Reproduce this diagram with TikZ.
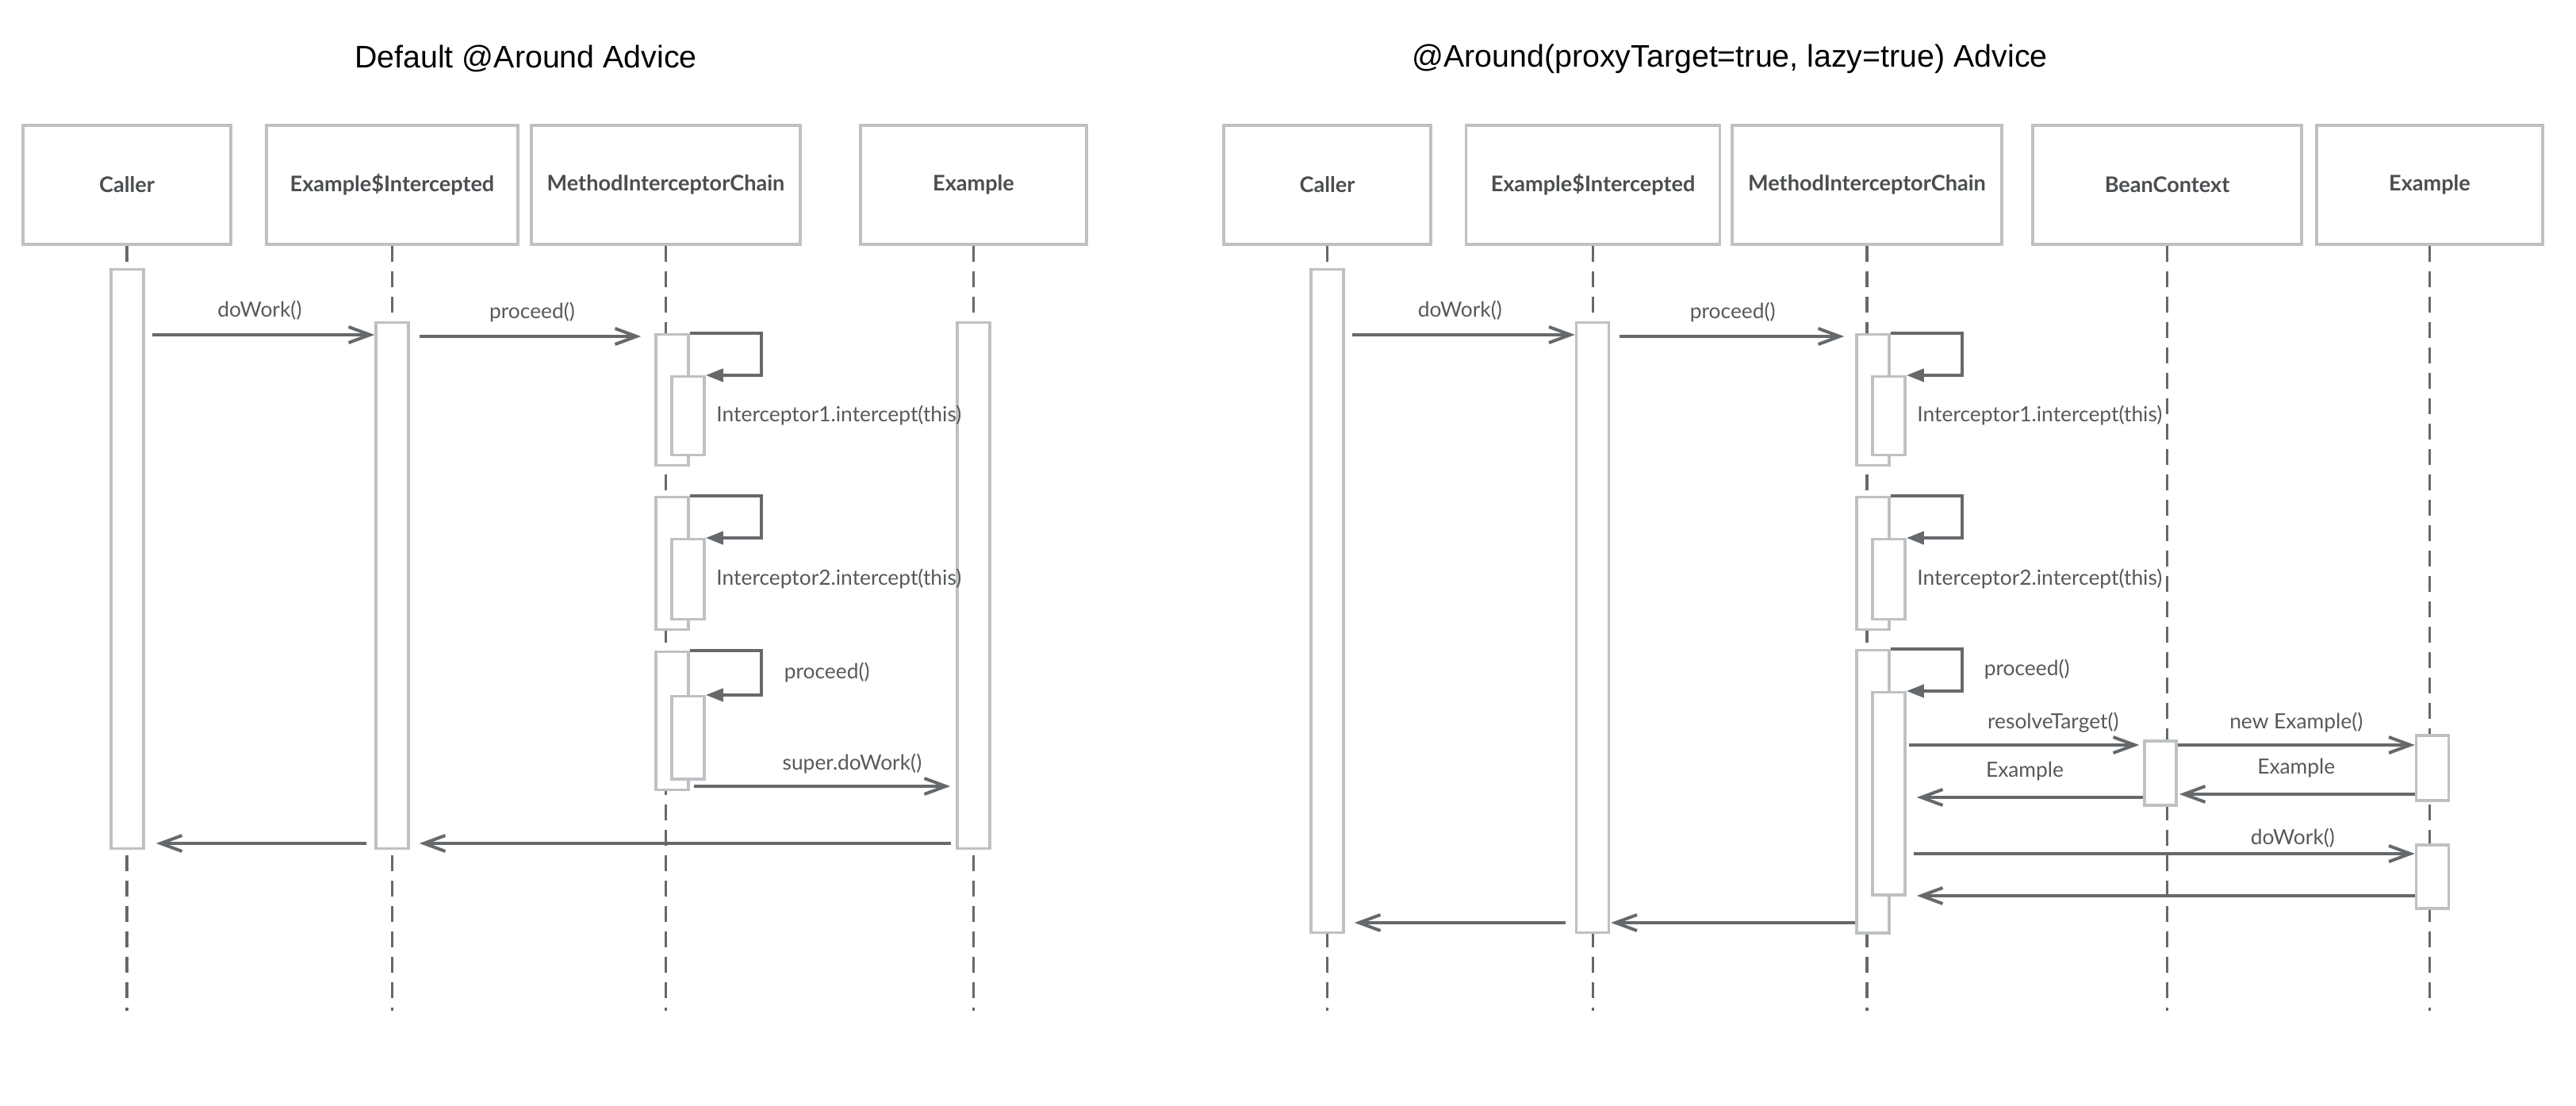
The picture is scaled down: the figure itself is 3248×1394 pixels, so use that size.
\documentclass[tikz,border=0pt]{standalone}
\usepackage{fontspec}
\setmainfont{Lato}
\newfontfamily\titlefont{Liberation Sans}
\usepackage{xcolor}
\usetikzlibrary{shapes,arrows.meta,positioning}

\definecolor{boxgray}{HTML}{BDC1C4}
\definecolor{linegray}{HTML}{66696C}
\definecolor{textgray}{HTML}{55595C}
\definecolor{headgray}{HTML}{4A4E51}

\begin{document}
\begin{tikzpicture}[x=0.1mm, y=-0.1mm]
    % Define styles
    \tikzstyle{heading} = [font=\titlefont\fontsize{11.2}{13}\selectfont, text=black]
    \tikzstyle{actor} = [rectangle, minimum height=15mm, text centered, draw=boxgray, line width=0.35mm, fill=white, font=\bfseries\fontsize{7.7}{9}\selectfont, text=headgray]
    \tikzstyle{bar} = [rectangle, minimum width=4.1mm, inner sep=0, anchor=north, draw=boxgray, line width=0.35mm, fill=white]
    \tikzstyle{life} = [draw=linegray, line width=0.35mm, dash pattern=on 2mm off 1.2mm]
    \tikzstyle{msg} = [draw=linegray, line width=0.4mm, -{Straight Barb[length=2.7mm, width=2mm]}]
    \tikzstyle{selfcall} = [draw=linegray, line width=0.4mm, -{Triangle[length=2.2mm, width=1.6mm]}]
    \tikzstyle{lbl} = [inner sep=0, text height=2mm, text depth=0.55mm, font=\fontsize{7.5}{9}\selectfont, text=textgray]

    \useasboundingbox (0,0) rectangle (3248,1394);

    % Titles
    \node[heading] (Ltitle) at (663,74) {Default @Around Advice};
    \node[heading] (Rtitle) at (2181,74) {@Around(proxyTarget=true, lazy=true) Advice};

    % Left: headers
    \node[actor, minimum width=26.2mm] (Lcaller) at (160,233) {Caller};
    \node[actor, minimum width=31.7mm] (Lsi) at (494.5,233) {Example\$Intercepted};
    \node[actor, minimum width=33.9mm] (Lmic) at (839.5,233) {MethodInterceptorChain};
    \node[actor, minimum width=28.5mm] (Lex) at (1227.5,233) {Example};

    % Right: headers
    \node[actor, minimum width=26.1mm] (Rcaller) at (1673.5,233) {Caller};
    \node[actor, minimum width=32mm] (Rsi) at (2008.5,233) {Example\$Intercepted};
    \node[actor, minimum width=34mm] (Rmic) at (2354,233) {MethodInterceptorChain};
    \node[actor, minimum width=33.9mm] (Rbc) at (2732.5,233) {BeanContext};
    \node[actor, minimum width=28.5mm] (Rex) at (3063.5,233) {Example};

    % Lifelines
    \draw[life] (Lcaller.south) -- (Lcaller.south |- 0,1274);
    \draw[life] (Lsi.south) -- (Lsi.south |- 0,1274);
    \draw[life] (Lmic.south) -- (Lmic.south |- 0,1274);
    \draw[life] (Lex.south) -- (Lex.south |- 0,1274);
    \draw[life] (Rcaller.south) -- (Rcaller.south |- 0,1274);
    \draw[life] (Rsi.south) -- (Rsi.south |- 0,1274);
    \draw[life] (Rmic.south) -- (Rmic.south |- 0,1274);
    \draw[life] (Rbc.south) -- (Rbc.south |- 0,1274);
    \draw[life] (Rex.south) -- (Rex.south |- 0,1274);

    % Left: activations
    \node[bar, minimum height=73mm] (Lcbar) at (160.5,338) {};
    \node[bar, minimum height=66.3mm] (Lsbar) at (494.5,405) {};
    \node[bar, minimum height=66.3mm] (Lebar) at (1227.5,405) {};
    \node[bar, minimum height=16.5mm] (Lo1) at (847.5,420) {};
    \node[bar, minimum height=9.9mm] (Li1) at (867.5,473) {};
    \node[bar, minimum height=16.7mm] (Lo2) at (847.5,625) {};
    \node[bar, minimum height=10.1mm] (Li2) at (867.5,678) {};
    \node[bar, minimum height=17.4mm] (Lo3) at (847.5,820) {};
    \node[bar, minimum height=10.4mm] (Li3) at (867.5,876) {};

    % Right: activations
    \node[bar, minimum height=83.6mm] (Rcbar) at (1673.5,338) {};
    \node[bar, minimum height=76.9mm] (Rsbar) at (2008,405) {};
    \node[bar, minimum height=16.5mm] (Ro1) at (2361.5,420) {};
    \node[bar, minimum height=9.9mm] (Ri1) at (2381.5,473) {};
    \node[bar, minimum height=16.7mm] (Ro2) at (2361.5,625) {};
    \node[bar, minimum height=10.1mm] (Ri2) at (2381.5,678) {};
    \node[bar, minimum height=35.6mm] (Ro3) at (2361.5,818) {};
    \node[bar, minimum height=25.5mm] (Ri3) at (2381.5,871) {};
    \node[bar, minimum width=4mm, minimum height=8.1mm] (Rbbar) at (2724,932) {};
    \node[bar, minimum height=8.2mm] (Rebar1) at (3067,925) {};
    \node[bar, minimum height=8mm] (Rebar2) at (3067,1063) {};

    % Left: connections
    \draw[msg, shorten <=0.9mm] (Lcbar.east |- 0,422) -- node[lbl, above=1.5mm] {doWork()} (Lsbar.west |- 0,422);
    \draw[msg, shorten <=1.2mm, shorten >=1.7mm] (Lsbar.east |- 0,424) -- node[lbl, above=1.5mm] {proceed()} (Lo1.west |- 0,424);
    \draw[selfcall] (Lo1.north east) -- ++(90,0) |- (Li1.north east);
    \node[lbl, right=1.3mm of Li1] (Lint1) {Interceptor1.intercept(this)};
    \draw[selfcall] (Lo2.north east) -- ++(90,0) |- (Li2.north east);
    \node[lbl, right=1.3mm of Li2] (Lint2) {Interceptor2.intercept(this)};
    \draw[selfcall] (Lo3.north east) -- ++(90,0) |- node[lbl, pos=0.25, right=2.7mm] {proceed()} (Li3.north east);
    \draw[msg, shorten <=0.5mm, shorten >=0.7mm] (Lo3.east |- 0,991) -- node[lbl, pos=0.61, above=1.35mm] {super.doWork()} (Lebar.west |- 0,991);
    \draw[msg, shorten <=0.6mm, shorten >=1.2mm] (Lebar.west |- 0,1063) -- (Lsbar.east |- 0,1063);
    \draw[msg, shorten <=1mm, shorten >=1.4mm] (Lsbar.west |- 0,1063) -- (Lcbar.east |- 0,1063);

    % Right: connections
    \draw[msg, shorten <=0.9mm] (Rcbar.east |- 0,422) -- node[lbl, above=1.5mm] {doWork()} (Rsbar.west |- 0,422);
    \draw[msg, shorten <=1.2mm, shorten >=1.4mm] (Rsbar.east |- 0,424) -- node[lbl, above=1.5mm] {proceed()} (Ro1.west |- 0,424);
    \draw[selfcall] (Ro1.north east) -- ++(90,0) |- (Ri1.north east);
    \node[lbl, right=1.3mm of Ri1] (Rint1) {Interceptor1.intercept(this)};
    \draw[selfcall] (Ro2.north east) -- ++(90,0) |- (Ri2.north east);
    \node[lbl, right=1.3mm of Ri2] (Rint2) {Interceptor2.intercept(this)};
    \draw[selfcall] (Ro3.north east) -- ++(90,0) |- node[lbl, pos=0.25, right=2.6mm] {proceed()} (Ri3.north east);
    \draw[msg, shorten <=0.3mm, shorten >=0.5mm] (Ri3.east |- 0,939) -- node[lbl, pos=0.62, above=1.35mm] {resolveTarget()} (Rbbar.west |- 0,939);
    \draw[msg] (Rbbar.east |- 0,939) -- node[lbl, above=1.35mm] {new Example()} (Rebar1.west |- 0,939);
    \draw[msg, shorten >=0.2mm] (Rebar1.west |- 0,1001) -- node[lbl, above=1.85mm] {Example} (Rbbar.east |- 0,1001);
    \draw[msg, shorten >=1.3mm] (Rbbar.west |- 0,1005) -- node[lbl, above=1.85mm] {Example} (Ri3.east |- 0,1005);
    \draw[msg, shorten <=0.9mm] (Ri3.east |- 0,1076) -- node[lbl, pos=0.76, above=0.45mm] {doWork()} (Rebar2.west |- 0,1076);
    \draw[msg, shorten >=1.3mm] (Rebar2.west |- 0,1129) -- (Ri3.east |- 0,1129);
    \draw[msg, shorten >=0.1mm] (Ro3.west |- 0,1163) -- (Rsbar.east |- 0,1163);
    \draw[msg, shorten <=1.2mm, shorten >=1.2mm] (Rsbar.west |- 0,1163) -- (Rcbar.east |- 0,1163);
\end{tikzpicture}
\end{document}
